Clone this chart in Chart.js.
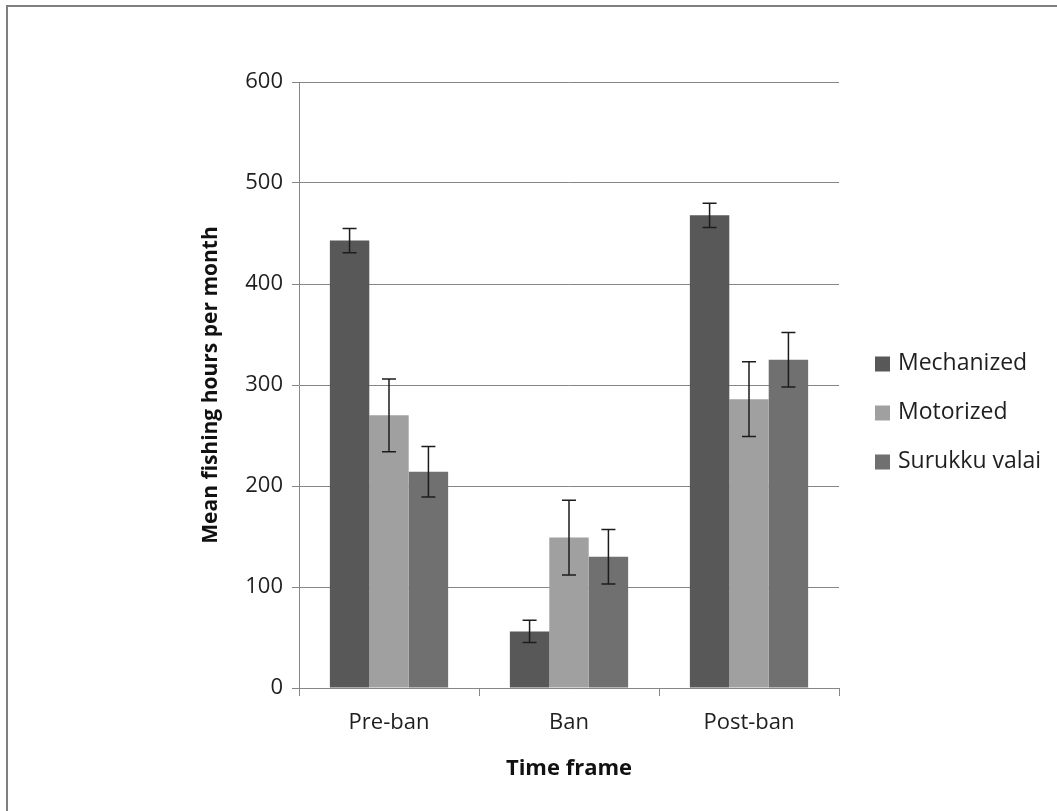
<!DOCTYPE html>
<html>
<head>
<meta charset="utf-8">
<title>Mean fishing hours per month</title>
<script src="https://cdn.jsdelivr.net/npm/chart.js@4.4.0/dist/chart.umd.min.js"></script>
<style>
html, body { margin: 0; padding: 0; background: #fff; }
#wrap { position: relative; width: 1057px; height: 811px; }
#frame { position: absolute; left: 6px; top: 5px; right: 0; bottom: 0;
         border-left: 2px solid #7f7f7f; border-top: 2px solid #7f7f7f; pointer-events: none; }
canvas { position: absolute; left: 0; top: 0; }
</style>
</head>
<body>
<div id="wrap">
  <canvas id="fishing" width="1057" height="811"></canvas>
  <div id="frame"></div>
</div>
<script>
const categories = ['Pre-ban', 'Ban', 'Post-ban'];
const seriesNames = ['Mechanized', 'Motorized', 'Surukku valai'];
const mechanized = [443, 56, 468];
const motorized = [270, 149, 286];
const surukku = [214, 130, 325];
const mechanizedErr = [12, 11, 12];
const motorizedErr = [36, 37, 37];
const surukkuErr = [25, 27, 27];
const yTicks = [0, 100, 200, 300, 400, 500, 600];

const colors = ['#585858', '#a0a0a0', '#707070'];
const font = "'Open Sans', 'DejaVu Sans', sans-serif";
const textColor = '#1f1f1f';
const lineColor = '#868686';

// error bars drawn on top of each bar, using the y scale
const errorBars = {
    id: 'errorBars',
    afterDatasetsDraw(chart) {
        const ctx = chart.ctx;
        const y = chart.scales.y;
        ctx.save();
        ctx.strokeStyle = '#1c1c1c';
        ctx.lineWidth = 1.5;
        chart.data.datasets.forEach(function(ds, i) {
            chart.getDatasetMeta(i).data.forEach(function(bar, j) {
                const top = y.getPixelForValue(ds.data[j] + ds.errors[j]);
                const bot = y.getPixelForValue(ds.data[j] - ds.errors[j]);
                ctx.beginPath();
                ctx.moveTo(bar.x, top);
                ctx.lineTo(bar.x, bot);
                ctx.moveTo(bar.x - 7, top);
                ctx.lineTo(bar.x + 7, top);
                ctx.moveTo(bar.x - 7, bot);
                ctx.lineTo(bar.x + 7, bot);
                ctx.stroke();
            });
        });
        ctx.restore();
    }
};

// legend to the right of the plot, rows like the Excel original
const sideLegend = {
    id: 'sideLegend',
    afterDraw(chart) {
        const ctx = chart.ctx;
        const x = chart.chartArea.right + 36;
        const mid = chart.height / 2 + 7;
        ctx.save();
        ctx.font = '23px ' + font;
        ctx.textBaseline = 'middle';
        chart.data.datasets.forEach(function(ds, i) {
            const cy = mid + (i - 1) * 49;
            ctx.fillStyle = ds.backgroundColor;
            ctx.fillRect(x, cy - 7, 15, 15);
            ctx.fillStyle = textColor;
            ctx.fillText(ds.label, x + 23, cy);
        });
        ctx.restore();
    }
};

const ctx = document.getElementById('fishing').getContext('2d');

const fishingChart = new Chart(ctx, {
    type: 'bar',
    data: {
        labels: categories,
        datasets: [
            { label: seriesNames[0], data: mechanized, errors: mechanizedErr, backgroundColor: colors[0] },
            { label: seriesNames[1], data: motorized, errors: motorizedErr, backgroundColor: colors[1] },
            { label: seriesNames[2], data: surukku, errors: surukkuErr, backgroundColor: colors[2] }
        ]
    },
    options: {
        responsive: false,
        animation: false,
        categoryPercentage: 0.657,
        barPercentage: 1.0,
        layout: { padding: { top: 82, right: 218, left: 0, bottom: 0 } },
        plugins: {
            legend: { display: false },
            tooltip: { enabled: false }
        },
        scales: {
            x: {
                grid: { offset: true, drawOnChartArea: false, color: lineColor, tickLength: 8 },
                border: { color: lineColor },
                ticks: { color: textColor, font: { family: font, size: 22 }, padding: 14 },
                title: {
                    display: true, text: 'Time frame', color: '#111',
                    font: { family: font, size: 22, weight: 'bold' },
                    padding: { top: 0, bottom: 29 }
                },
                afterFit: function(s) { s.height = 123; }
            },
            y: {
                min: 0,
                max: 600,
                afterBuildTicks: function(s) { s.ticks = yTicks.map(function(v) { return { value: v }; }); },
                grid: { color: lineColor, tickLength: 7 },
                border: { color: lineColor },
                ticks: { color: textColor, font: { family: font, size: 22 }, padding: 9 },
                title: {
                    display: true, text: 'Mean fishing hours per month', color: '#111',
                    font: { family: font, size: 21, weight: 'bold' },
                    padding: { top: 198, bottom: 0 }
                },
                afterFit: function(s) { s.width = 299; }
            }
        }
    },
    plugins: [errorBars, sideLegend]
});
</script>
</body>
</html>
